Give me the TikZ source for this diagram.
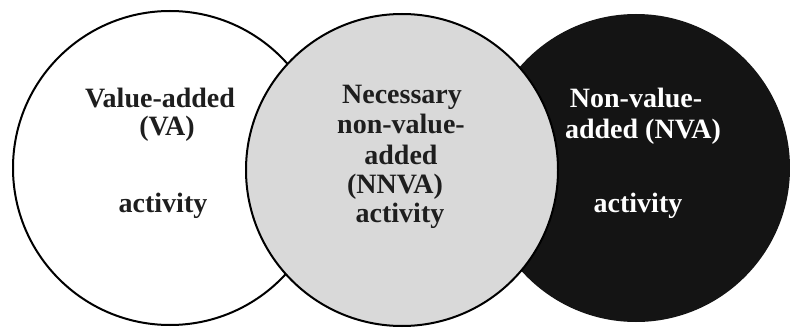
\documentclass[tikz,border=0pt]{standalone}
\usepackage{fontspec}
\setmainfont{Liberation Serif}
\definecolor{nnvagray}{HTML}{D9D9D9}
\definecolor{nvablack}{HTML}{141414}
\definecolor{inkdark}{HTML}{1E1E1E}
\begin{document}
\begin{tikzpicture}[x=1pt,y=-1pt,
  set/.style={circle, draw=black, line width=2pt, inner sep=0pt},
  lbl/.style={anchor=base, inner sep=0pt, text=inkdark,
    font=\fontsize{28}{30}\selectfont\bfseries},
  lblw/.style={lbl, text=white}]
\useasboundingbox (0,0) rectangle (790,329);
% the three activity sets; the middle one is drawn last so it lies on top
\node[set, fill=white, minimum size=314pt] (va) at (170,168) {};
\node[set, draw=nvablack, fill=nvablack, minimum size=306pt] (nva) at (636,168) {};
\node[set, fill=nnvagray, minimum size=312pt] (nnva) at (402,170) {};
% value-added
\node[lbl] (va1) at (160,107) {Value-added};
\node[lbl] (va2) at (167,135) {(VA)};
\node[lbl] (va3) at (163,212) {activity};
% necessary non-value-added
\node[lbl] (nn1) at (402,103) {Necessary};
\node[lbl] (nn2) at (401,133) {non-value-};
\node[lbl] (nn3) at (401,164) {added};
\node[lbl] (nn4) at (395,193) {(NNVA)};
\node[lbl] (nn5) at (400,222) {activity};
% non-value-added
\node[lblw] (nv1) at (636,107) {Non-value-};
\node[lblw] (nv2) at (643,138) {added (NVA)};
\node[lblw] (nv3) at (638,212) {activity};
\end{tikzpicture}
\end{document}
